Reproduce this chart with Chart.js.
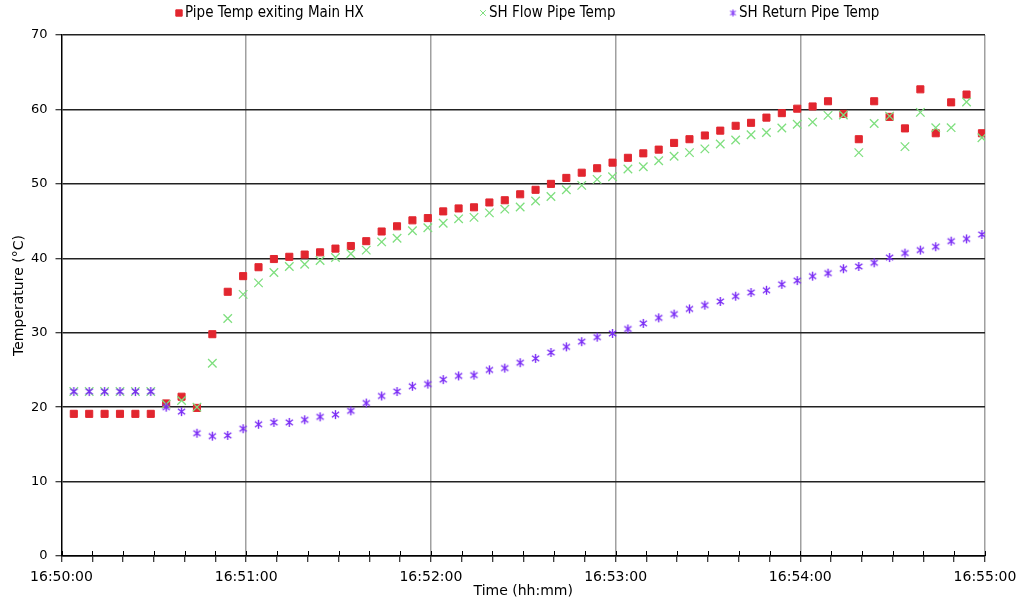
<!DOCTYPE html>
<html>
<head>
<meta charset="utf-8">
<script src="https://cdn.jsdelivr.net/npm/chart.js@4.4.1/dist/chart.umd.min.js"></script>
<style>
  html, body { margin: 0; padding: 0; background: #fff; }
  #wrap { width: 1025px; height: 601px; }
</style>
</head>
<body>
<div id="wrap"><canvas id="chart" width="1025" height="601"></canvas></div>
<script>
// Sample times, seconds after 16:50:00
const sampleSeconds = [
  4, 9, 14, 19, 24, 29, 34, 39, 44, 49, 54, 59,
  64, 69, 74, 79, 84, 89, 94, 99, 104, 109, 114, 119,
  124, 129, 134, 139, 144, 149, 154, 159, 164, 169, 174, 179,
  184, 189, 194, 199, 204, 209, 214, 219, 224, 229, 234, 239,
  244, 249, 254, 259, 264, 269, 274, 279, 284, 289, 294, 299
];

// Temperatures, °C
const pipeTempMainHX = [
  19.1, 19.1, 19.1, 19.1, 19.1, 19.1, 20.5, 21.4, 19.9, 29.8, 35.5, 37.6,
  38.8, 39.9, 40.2, 40.5, 40.8, 41.3, 41.65, 42.3, 43.6, 44.3, 45.1, 45.4,
  46.3, 46.7, 46.85, 47.5, 47.8, 48.6, 49.2, 50.0, 50.8, 51.5, 52.1, 52.85,
  53.5, 54.1, 54.6, 55.5, 56.0, 56.5, 57.15, 57.8, 58.2, 58.9, 59.5, 60.1,
  60.4, 61.1, 59.4, 56.0, 61.1, 59.0, 57.45, 62.7, 56.8, 60.95, 62.0, 56.8
];
const shFlowPipeTemp = [
  22.1, 22.1, 22.1, 22.1, 22.1, 22.1, 20.4, 20.9, 20.0, 25.9, 31.9, 35.15,
  36.7, 38.1, 38.9, 39.2, 39.7, 40.1, 40.6, 41.1, 42.2, 42.7, 43.7, 44.1,
  44.7, 45.3, 45.5, 46.1, 46.6, 46.9, 47.7, 48.3, 49.2, 49.8, 50.6, 50.95,
  52.0, 52.3, 53.1, 53.7, 54.2, 54.7, 55.35, 55.9, 56.6, 56.9, 57.5, 58.0,
  58.3, 59.2, 59.25, 54.2, 58.1, 59.1, 55.0, 59.6, 57.55, 57.55, 61.0, 56.2
];
const shReturnPipeTemp = [
  22.1, 22.1, 22.1, 22.1, 22.1, 22.1, 20.0, 19.4, 16.5, 16.1, 16.2, 17.1,
  17.7, 17.95, 17.95, 18.3, 18.7, 19.0, 19.5, 20.55, 21.5, 22.1, 22.8, 23.1,
  23.7, 24.2, 24.3, 25.0, 25.25, 25.97, 26.55, 27.35, 28.1, 28.8, 29.4, 29.9,
  30.5, 31.25, 32.0, 32.5, 33.2, 33.7, 34.2, 34.9, 35.4, 35.7, 36.5, 37.0,
  37.6, 38.0, 38.6, 38.9, 39.4, 40.1, 40.7, 41.1, 41.55, 42.3, 42.6, 43.2
];

const seriesNames = ['Pipe Temp exiting Main HX', 'SH Flow Pipe Temp', 'SH Return Pipe Temp'];
const timeTickLabels = ['16:50:00', '16:51:00', '16:52:00', '16:53:00', '16:54:00', '16:55:00'];
const tempTicks = [0, 10, 20, 30, 40, 50, 60, 70];

const FONT = "'DejaVu Sans', Verdana, sans-serif";
const LEGEND_FONT = "'DejaVu Sans Condensed', 'Liberation Sans Narrow', 'DejaVu Sans', sans-serif";

const RED = '#e2262f';
const GREEN = '#7fdf7f';
const PURPLE = '#7a2cf5';

const toPoints = (vals) => vals.map((v, i) => ({ x: sampleSeconds[i], y: v }));

// Six-armed asterisk marker (vertical bar plus diagonal cross)
function asteriskMarker(size, colour, width) {
  const c = document.createElement('canvas');
  c.width = size;
  c.height = size;
  const g = c.getContext('2d');
  const m = size / 2;
  const r = size / 2 - 1;
  const d = r * 0.8;
  g.strokeStyle = colour;
  g.lineWidth = width;
  g.beginPath();
  g.moveTo(m, m - r); g.lineTo(m, m + r);
  g.moveTo(m - d, m - d * 0.75); g.lineTo(m + d, m + d * 0.75);
  g.moveTo(m + d, m - d * 0.75); g.lineTo(m - d, m + d * 0.75);
  g.stroke();
  return c;
}
const returnMarker = asteriskMarker(11, PURPLE, 1.4);
const returnLegendMarker = asteriskMarker(9, PURPLE, 1.1);

// Legend row drawn along the top of the canvas
const topLegend = {
  id: 'topLegend',
  afterDraw(chart) {
    const ctx = chart.ctx;
    const starts = [179, 483, 733];
    const y = 13;
    ctx.save();
    ctx.font = '15px ' + LEGEND_FONT;
    ctx.textBaseline = 'middle';
    chart.data.datasets.forEach((ds, i) => {
      const cx = starts[i];
      ctx.fillStyle = ds.pointBackgroundColor;
      ctx.strokeStyle = ds.pointBorderColor;
      Chart.helpers.drawPoint(ctx, {
        pointStyle: ds.legendStyle,
        radius: ds.legendRadius,
        borderWidth: 1
      }, cx, y);
      ctx.fillStyle = '#000';
      ctx.fillText(ds.label, cx + 6, y + 0.5);
    });
    ctx.restore();
  }
};

// Small tick marks on the inner side of the time axis
const innerTimeTicks = {
  id: 'innerTimeTicks',
  afterDatasetsDraw(chart) {
    const { ctx, chartArea, scales } = chart;
    const x = scales.x;
    ctx.save();
    ctx.strokeStyle = '#000';
    ctx.lineWidth = 1;
    x.ticks.forEach((t) => {
      const px = Math.round(x.getPixelForValue(t.value)) + 0.5;
      ctx.beginPath();
      ctx.moveTo(px, chartArea.bottom - 5);
      ctx.lineTo(px, chartArea.bottom);
      ctx.stroke();
    });
    ctx.restore();
  }
};

new Chart(document.getElementById('chart'), {
  type: 'scatter',
  data: {
    datasets: [
      {
        label: seriesNames[0],
        data: toPoints(pipeTempMainHX),
        pointStyle: 'rect',
        legendStyle: 'rect',
        pointRadius: 5,
        legendRadius: 4.5,
        pointBackgroundColor: RED,
        pointBorderColor: RED,
        pointBorderWidth: 1,
        backgroundColor: RED,
        borderColor: RED,
        order: 2
      },
      {
        label: seriesNames[1],
        data: toPoints(shFlowPipeTemp),
        pointStyle: 'crossRot',
        legendStyle: 'crossRot',
        pointRadius: 6,
        legendRadius: 4,
        pointBackgroundColor: GREEN,
        pointBorderColor: GREEN,
        pointBorderWidth: 1.3,
        backgroundColor: GREEN,
        borderColor: GREEN,
        order: 1
      },
      {
        label: seriesNames[2],
        data: toPoints(shReturnPipeTemp),
        pointStyle: returnMarker,
        legendStyle: returnLegendMarker,
        pointRadius: 5,
        legendRadius: 4,
        pointBackgroundColor: PURPLE,
        pointBorderColor: PURPLE,
        pointBorderWidth: 1.2,
        backgroundColor: PURPLE,
        borderColor: PURPLE,
        order: 0
      }
    ]
  },
  options: {
    responsive: false,
    animation: false,
    devicePixelRatio: 1,
    layout: { padding: { top: 35, right: 40, left: 7, bottom: 3 } },
    plugins: {
      legend: { display: false },
      tooltip: { enabled: false }
    },
    scales: {
      x: {
        type: 'linear',
        min: 0,
        max: 300,
        afterFit: (scale) => { scale.height = 42; },
        ticks: {
          stepSize: 10,
          autoSkip: false,
          maxRotation: 0,
          padding: 7,
          color: '#000',
          font: { family: FONT, size: 14 },
          callback: (v) => (v % 60 === 0 ? timeTickLabels[v / 60] : '')
        },
        grid: {
          color: (c) => (c.tick && c.tick.value % 60 === 0 && c.tick.value > 0 ? '#a0a0a0' : 'rgba(0,0,0,0)'),
          lineWidth: 1.5,
          tickColor: '#000',
          tickLength: 6,
          tickWidth: 1
        },
        border: { display: true, color: '#000', width: 1.5 },
        title: {
          display: true,
          text: 'Time (hh:mm)',
          color: '#000',
          font: { family: FONT, size: 14, lineHeight: 1 },
          padding: { top: 0, bottom: 0 }
        }
      },
      y: {
        min: 0,
        max: 70,
        afterBuildTicks: (scale) => { scale.ticks = tempTicks.map((v) => ({ value: v })); },
        afterFit: (scale) => { scale.width = 54.5; },
        ticks: {
          padding: 8,
          color: '#000',
          font: { family: FONT, size: 13 }
        },
        grid: {
          color: '#222',
          lineWidth: 1.5,
          tickColor: '#000',
          tickLength: 6,
          tickWidth: 1
        },
        border: { display: true, color: '#000', width: 1.5 },
        title: {
          display: true,
          text: 'Temperature (°C)',
          color: '#000',
          font: { family: FONT, size: 14 },
          padding: { top: 4, bottom: 4 }
        }
      }
    }
  },
  plugins: [innerTimeTicks, topLegend]
});
</script>
</body>
</html>
